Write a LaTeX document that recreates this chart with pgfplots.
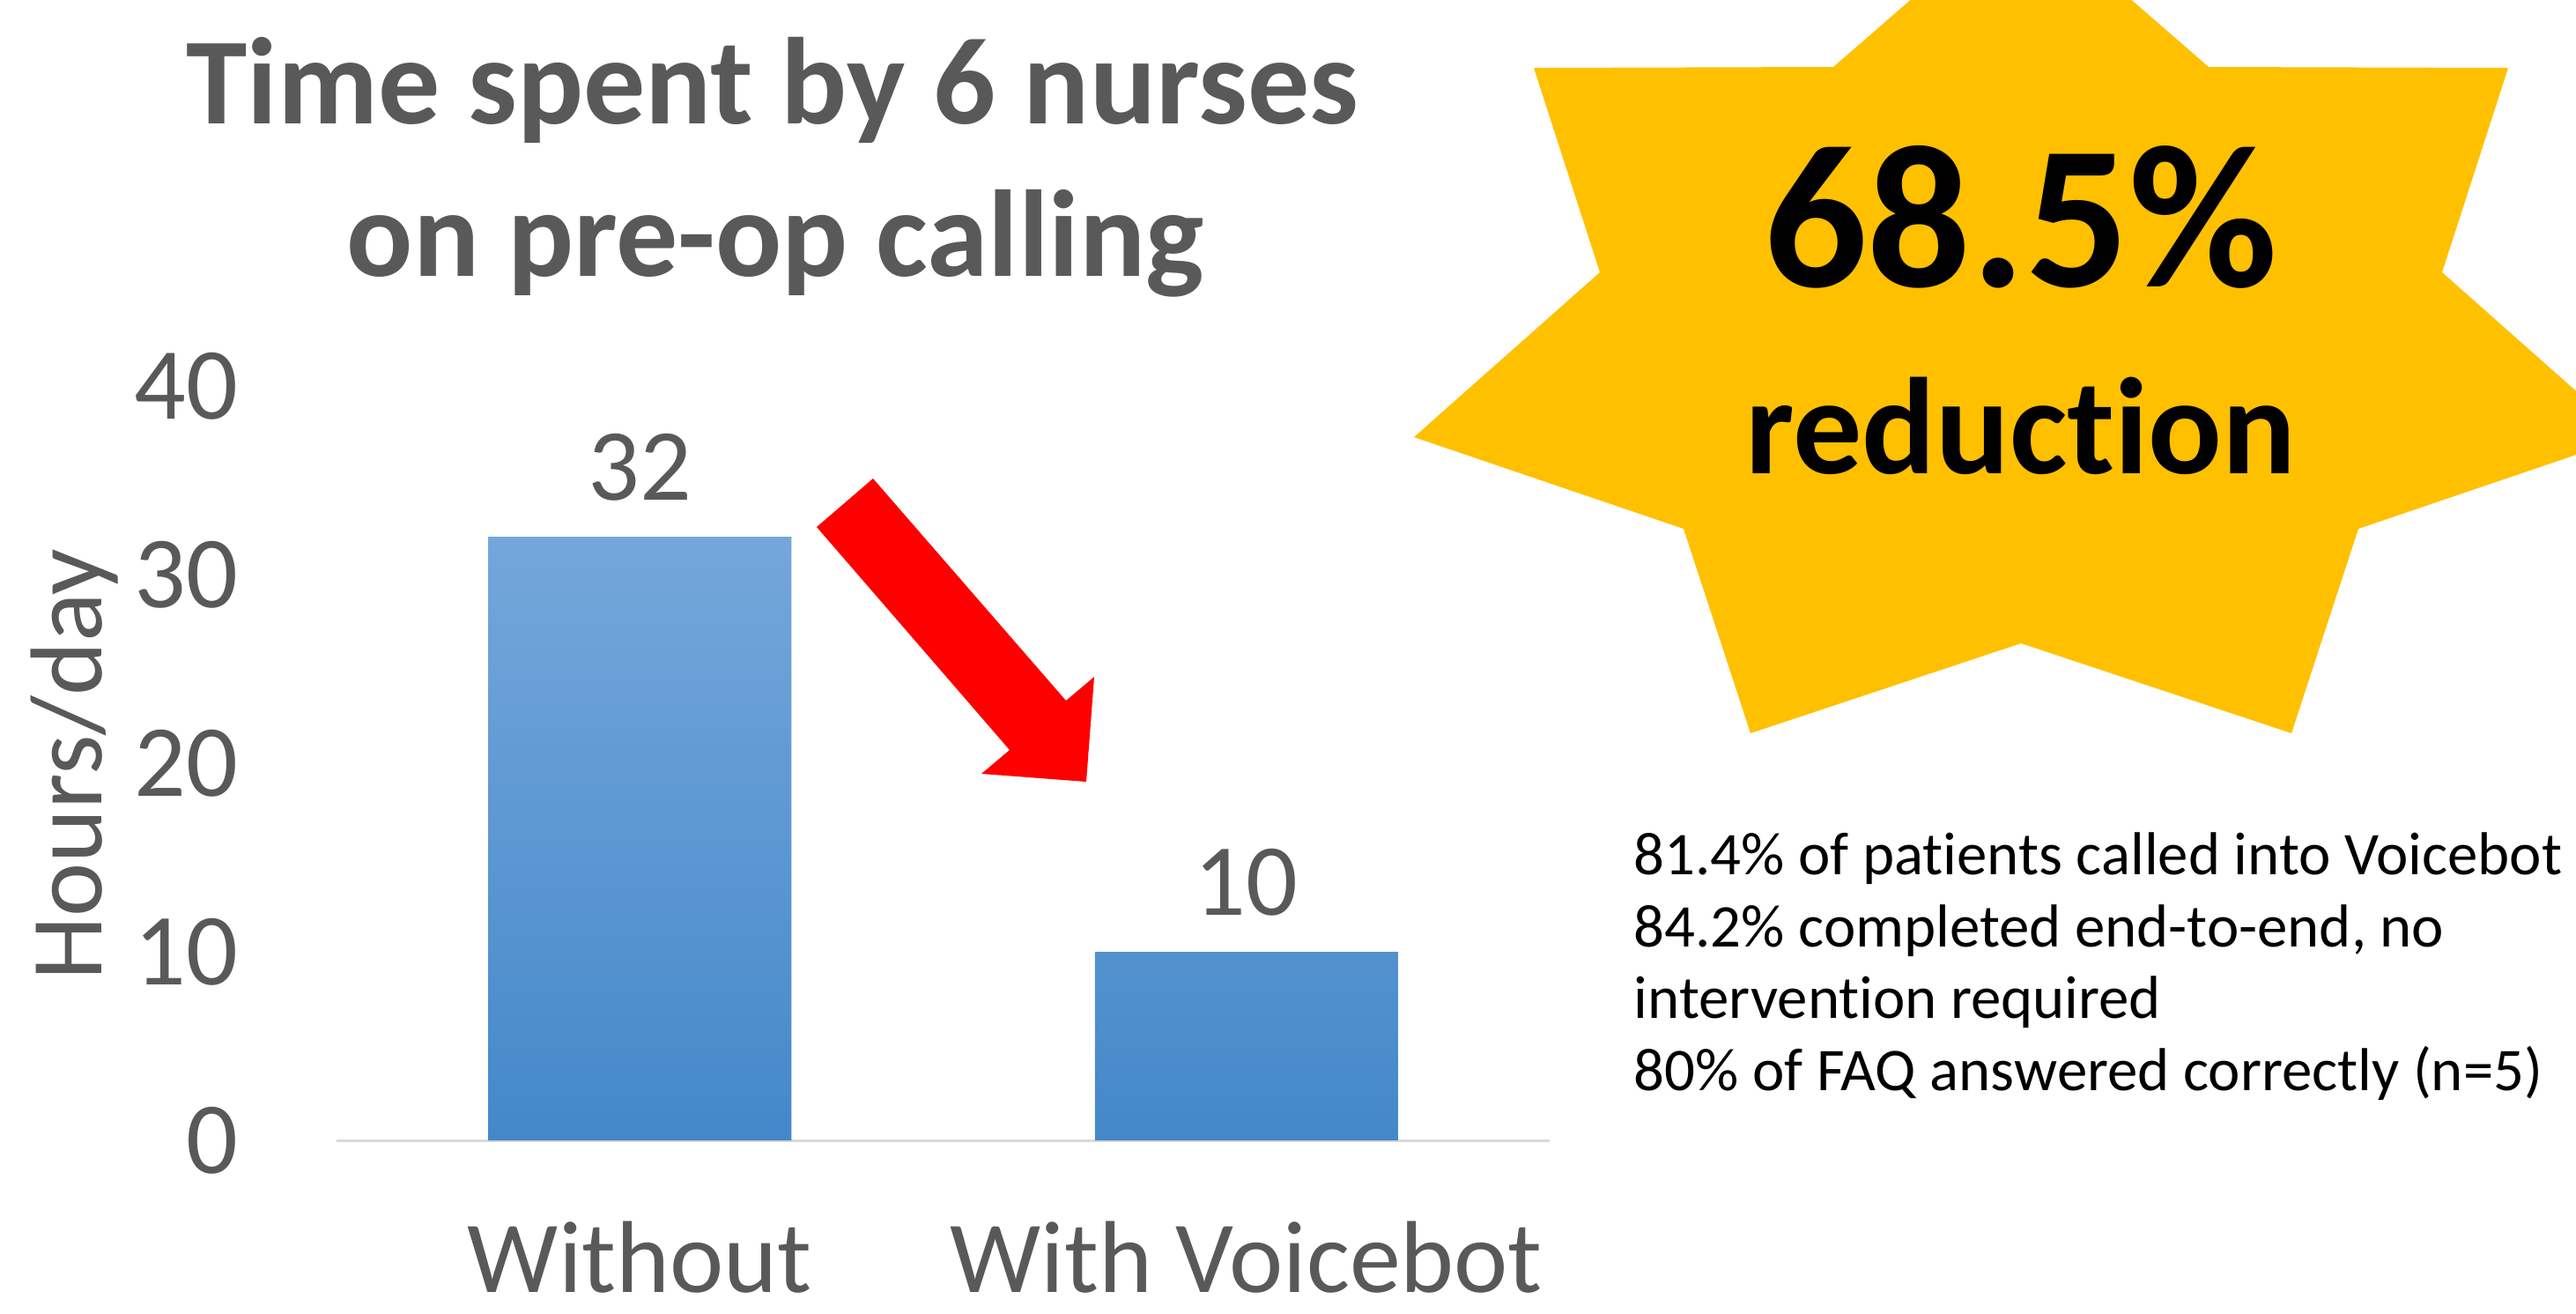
\documentclass[border=0pt]{standalone}
\usepackage{fontspec}
\setmainfont{Carlito}[Ligatures=NoCommon]
\usepackage{pgfplots}
\pgfplotsset{compat=1.18}
\definecolor{txtgray}{HTML}{595959}
\definecolor{gridgray}{HTML}{D9D9D9}
\definecolor{bartop}{RGB}{116,167,219}
\definecolor{barbot}{RGB}{68,136,201}
\definecolor{stargold}{HTML}{FFC000}
\begin{document}
\begin{tikzpicture}
\useasboundingbox (0,0) rectangle (731pt,-372.5pt);
\begin{scope}[x=0.25pt,y=-0.25pt]
\clip (0,0) rectangle (2924,1490);
\fill[stargold] (2294,-109) -- (2507,76) -- (2847,77) -- (2772,309) -- (2983,496) -- (2677,600) -- (2601,832) -- (2294,730) -- (1987,832) -- (1911,600) -- (1605,496) -- (1816,309) -- (1741,77) -- (2081,76) -- cycle;
\fill[red] (991,543) -- (1210,795) -- (1242,768) -- (1233,887) -- (1114,878) -- (1146,851) -- (927,598) -- cycle;
\node[anchor=base, font=\bfseries\fontsize{35}{42}\selectfont, text=txtgray, inner sep=0pt] at (877,140) {Time spent by 6 nurses};
\node[anchor=base, font=\bfseries\fontsize{35}{42}\selectfont, text=txtgray, inner sep=0pt] at (880,313) {on pre-op calling};
\node[anchor=base, font=\bfseries\fontsize{58}{70}\selectfont, inner sep=0pt] at (2294,325) {68.5\%};
\node[anchor=base, font=\bfseries\fontsize{39}{47}\selectfont, inner sep=0pt] at (2294,537) {reduction};
\node[anchor=base west, font=\fontsize{17.2}{21}\selectfont, inner sep=0pt] at (1854,992) {81.4\% of patients called into Voicebot};
\node[anchor=base west, font=\fontsize{17.2}{21}\selectfont, inner sep=0pt] at (1854,1074) {84.2\% completed end-to-end, no};
\node[anchor=base west, font=\fontsize{17.2}{21}\selectfont, inner sep=0pt] at (1854,1155) {intervention required};
\node[anchor=base west, font=\fontsize{17.2}{21}\selectfont, inner sep=0pt] at (1854,1237) {80\% of FAQ answered correctly (n=5)};
\end{scope}
\begin{axis}[
  at={(95.5pt,-323.5pt)}, anchor=south west,
  scale only axis, width=344.25pt, height=214pt,
  xmin=-0.5, xmax=1.5, ymin=0, ymax=40,
  clip=false,
  axis line style={draw=none},
  major tick length=0pt,
  xtick={0,1}, xticklabels={Without, With Voicebot},
  ytick={0,10,20,30,40},
  /pgf/number format/assume math mode=true,
  tick label style={font=\fontsize{29}{35}\selectfont, text=txtgray},
  yticklabel style={anchor=east, inner sep=0pt, xshift=-27.75pt},
  xticklabel style={anchor=base, inner sep=0pt, yshift=-43pt},
  ylabel={Hours/day},
  every axis y label/.style={at={(axis description cs:-0.1939,0.498)}, anchor=base, rotate=90, font=\fontsize{29}{35}\selectfont, text=txtgray, inner sep=0pt},
  every node near coord/.append style={font=\fontsize{29}{35}\selectfont, text=txtgray, anchor=south, inner sep=0pt, yshift=10pt},
]
\draw[gridgray, line width=0.75pt] (axis cs:-0.5,0) -- (axis cs:1.5,0);
\addplot[ybar, bar width=86pt, draw=none, top color=bartop, bottom color=barbot, nodes near coords]
  coordinates {(0,32) (1,10)};
\end{axis}
\end{tikzpicture}
\end{document}
